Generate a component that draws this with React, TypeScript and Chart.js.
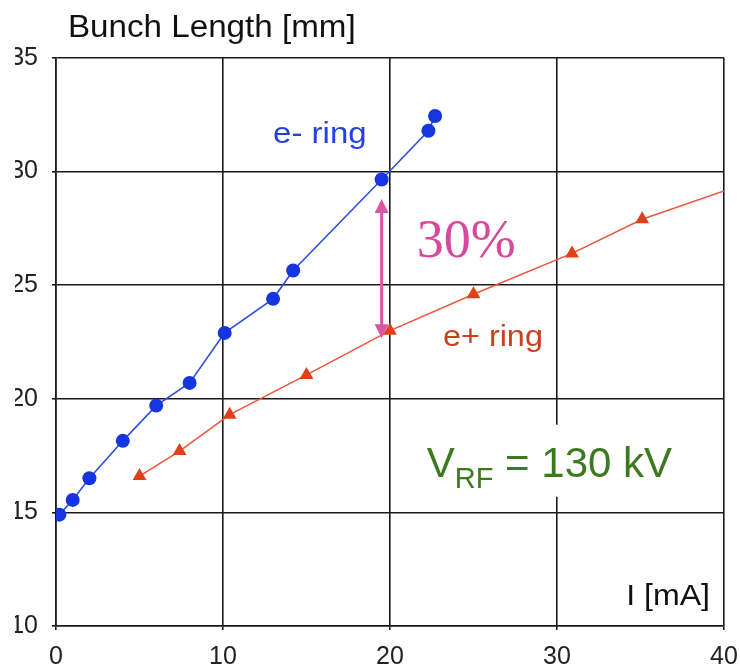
import React, { useEffect, useRef } from "react";
import { Chart, registerables } from "chart.js";
Chart.register(...registerables);

// e- ring (blue circles)
const eMinusCurrent = [0.2, 1.0, 2.0, 4.0, 6.0, 8.0, 10.1, 13.0, 14.2, 19.5, 22.3, 22.7];
const eMinusLength = [14.9, 15.55, 16.5, 18.15, 19.7, 20.7, 22.9, 24.4, 25.65, 29.65, 31.8, 32.45];
// e+ ring (red triangles); last entry is the curve's end at the frame edge (no marker)
const ePlusCurrent = [5.0, 7.4, 10.4, 15.0, 20.0, 25.0, 30.9, 35.1, 40];
const ePlusLength = [16.6, 17.7, 19.3, 21.05, 23.0, 24.6, 26.4, 27.9, 29.15];
const ePlusMarker = [true, true, true, true, true, true, true, true, false];

const xMin = 0, xMax = 40, xStep = 10;
const yMin = 10, yMax = 35, yStep = 5;

const yTitle = "Bunch Length [mm]";
const xTitle = "I [mA]";
const eMinusLabel = "e- ring";
const ePlusLabel = "e+ ring";
const diffLabel = "30%";
const arrowX = 19.5, arrowTop = 28.79, arrowBottom = 22.66;

const SANS = "'Liberation Sans', Arial, sans-serif";
const SERIF = "'Liberation Serif', 'Times New Roman', serif";

function drawStretched(ctx: CanvasRenderingContext2D, text: string, x: number, y: number, font: string, color: string, sx: number, align: CanvasTextAlign = "left") {
  ctx.save();
  ctx.font = font;
  ctx.fillStyle = color;
  ctx.textBaseline = "alphabetic";
  ctx.textAlign = align;
  ctx.translate(x, y);
  ctx.scale(sx, 1);
  ctx.fillText(text, 0, 0);
  ctx.restore();
}

const annotations = {
  id: "annotations",
  afterDraw(chart: any) {
    const ctx: CanvasRenderingContext2D = chart.ctx;
    const xs = chart.scales.x, ys = chart.scales.y;
    const ca = chart.chartArea;
    const px = (v: number) => xs.getPixelForValue(v);
    const py = (v: number) => ys.getPixelForValue(v);

    // clipped left edge of the original picture
    ctx.save();
    ctx.fillStyle = "#ffffff";
    ctx.fillRect(0, 0, 15, chart.height);
    ctx.restore();

    // axis titles
    drawStretched(ctx, yTitle, ca.left + 12, ca.top - 21, `31px ${SANS}`, "#111", 1.07);
    drawStretched(ctx, xTitle, ca.right - 14, ca.bottom - 21, `30px ${SANS}`, "#111", 1.07, "right");

    // series labels
    drawStretched(ctx, eMinusLabel, px(13.0), py(31.26), `30px ${SANS}`, "#2442e0", 1.1);
    drawStretched(ctx, ePlusLabel, px(23.17), py(22.31), `30px ${SANS}`, "#c8401c", 1.08);

    // double arrow
    const ax = px(arrowX), at = py(arrowTop), ab = py(arrowBottom);
    const hl = 14, hw = 7;
    ctx.save();
    ctx.strokeStyle = "#dc55a4";
    ctx.fillStyle = "#dc55a4";
    ctx.lineWidth = 3;
    ctx.beginPath();
    ctx.moveTo(ax, at + hl - 1);
    ctx.lineTo(ax, ab - hl + 1);
    ctx.stroke();
    ctx.beginPath();
    ctx.moveTo(ax, at);
    ctx.lineTo(ax - hw, at + hl);
    ctx.lineTo(ax + hw, at + hl);
    ctx.closePath();
    ctx.fill();
    ctx.beginPath();
    ctx.moveTo(ax, ab);
    ctx.lineTo(ax - hw, ab - hl);
    ctx.lineTo(ax + hw, ab - hl);
    ctx.closePath();
    ctx.fill();
    ctx.restore();

    drawStretched(ctx, diffLabel, px(21.6), py(26.23), `54px ${SERIF}`, "#d9489c", 1.0);

    // V_RF = 130 kV with white box
    const vx = px(22.2), vb = py(16.57), sb = vb + 11;
    ctx.save();
    ctx.fillStyle = "#ffffff";
    ctx.fillRect(vx - 12, vb - 52, 275, 72);
    ctx.restore();
    const green = "#3c7a1e";
    ctx.save();
    ctx.font = `42px ${SANS}`;
    const wV = ctx.measureText("V").width;
    ctx.font = `29px ${SANS}`;
    const wRF = ctx.measureText("RF").width;
    ctx.restore();
    drawStretched(ctx, "V", vx, vb, `42px ${SANS}`, green, 1);
    drawStretched(ctx, "RF", vx + wV, sb, `29px ${SANS}`, green, 1);
    drawStretched(ctx, " = 130 kV", vx + wV + wRF, vb, `42px ${SANS}`, green, 1);
  },
};

export default function App() {
  const ref = useRef<HTMLCanvasElement>(null);
  useEffect(() => {
    const canvas = ref.current!;
    const chart = new Chart(canvas, {
      type: "scatter",
      data: {
        datasets: [
          {
            label: ePlusLabel,
            data: ePlusCurrent.map((x, i) => ({ x, y: ePlusLength[i] })),
            showLine: true,
            borderColor: "#f0553a",
            borderWidth: 1.5,
            backgroundColor: "#e0401a",
            pointBackgroundColor: "#e0401a",
            pointBorderColor: "#e0401a",
            pointStyle: "triangle",
            pointRadius: ePlusMarker.map((m) => (m ? 8 : 0)),
            pointBorderWidth: 0,
            tension: 0,
          },
          {
            label: eMinusLabel,
            data: eMinusCurrent.map((x, i) => ({ x, y: eMinusLength[i] })),
            showLine: true,
            borderColor: "#2f4ee6",
            borderWidth: 1.6,
            backgroundColor: "#1435e0",
            pointBackgroundColor: "#1435e0",
            pointBorderColor: "#1435e0",
            pointStyle: "circle",
            pointRadius: 7,
            pointBorderWidth: 0,
            tension: 0,
          },
        ],
      },
      options: {
        animation: false,
        responsive: false,
        devicePixelRatio: 1,
        layout: { padding: { top: 58, right: 16, left: 0, bottom: 0 } },
        plugins: { legend: { display: false }, tooltip: { enabled: false }, title: { display: false } },
        scales: {
          x: {
            type: "linear",
            min: xMin,
            max: xMax,
            afterFit: (s: any) => { s.height = 41; s.paddingLeft = 0; s.paddingRight = 0; },
            ticks: { stepSize: xStep, color: "#222", font: { family: SANS, size: 25 }, padding: 12, maxRotation: 0 },
            grid: { color: "#1a1a1a", lineWidth: 1.6, tickLength: 4 },
            border: { display: true, color: "#1a1a1a", width: 1.6 },
          },
          y: {
            type: "linear",
            min: yMin,
            max: yMax,
            afterFit: (s: any) => { s.width = 56; s.paddingTop = 0; s.paddingBottom = 0; },
            ticks: { stepSize: yStep, color: "#222", font: { family: SANS, size: 25 }, padding: 14 },
            grid: { color: "#1a1a1a", lineWidth: 1.6, tickLength: 4 },
            border: { display: true, color: "#1a1a1a", width: 1.6 },
          },
        },
      },
      plugins: [annotations],
    });
    return () => chart.destroy();
  }, []);
  return (
    <div style={{ position: "absolute", left: 0, top: 0, width: 740, height: 667, background: "#fff" }}>
      <canvas ref={ref} width={740} height={667} style={{ display: "block", width: 740, height: 667 }} />
    </div>
  );
}
